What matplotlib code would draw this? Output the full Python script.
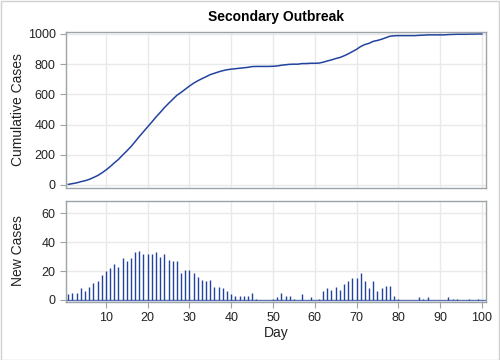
import matplotlib
matplotlib.use("Agg")
import matplotlib.pyplot as plt
import numpy as np

plt.rcParams['font.family'] = ['Liberation Sans', 'DejaVu Sans']

days = list(range(1, 101))
new_cases_early = [4, 5, 5, 8, 6, 9, 12, 13, 17, 20, 22, 25, 23, 29, 27, 29, 33, 34, 32, 32,
                   32, 33, 30, 32, 28, 27, 27, 19, 21, 21, 19, 16, 14, 13, 14, 9, 9, 8, 6, 4,
                   3, 3, 3, 3, 5, 1, 0, 0, 0, 1]
new_cases_late = [2, 5, 3, 3, 1, 0, 4, 0, 2, 0, 1, 6, 8, 7, 9, 7, 11, 13, 15, 15,
                  19, 13, 8, 13, 6, 8, 10, 10, 3, 1, 0, 0, 0, 0, 2, 1, 2, 0, 0, 0,
                  0, 2, 1, 1, 0, 0, 1, 0, 1, 0]
new_cases = new_cases_early + new_cases_late
cumulative = np.cumsum(new_cases)

title = "Secondary Outbreak"
xticks = [10, 20, 30, 40, 50, 60, 70, 80, 90, 100]
yticks_top = [0, 200, 400, 600, 800, 1000]
yticks_bot = [0, 20, 40, 60]

blue = '#22449e'
spine_c = '#9ea3a8'
grid_c = '#e9e9e9'
text_c = '#222222'

fig = plt.figure(figsize=(5, 3.6), dpi=100)
W, H = 500, 360
def ax_rect(l, t, r, b):
    return [l / W, 1 - b / H, (r - l) / W, (b - t) / H]

ax1 = fig.add_axes(ax_rect(66, 32, 486, 188))
ax2 = fig.add_axes(ax_rect(66, 200.5, 486, 302))

for ax in (ax1, ax2):
    ax.set_xlim(0.45, 101)
    ax.set_xticks(xticks)
    ax.grid(True, color=grid_c, linewidth=1.0)
    ax.set_axisbelow(True)
    for s in ax.spines.values():
        s.set_color(spine_c)
        s.set_linewidth(1.0)
    ax.tick_params(colors=spine_c, labelcolor=text_c, labelsize=9, length=4, width=0.8)

ax1.plot(days, cumulative, color=blue, linewidth=1.1)
ax1.set_ylim(-20, 1013)
ax1.set_yticks(yticks_top)
ax1.tick_params(axis='x', bottom=False, labelbottom=False)

ax2.vlines(days, 0, new_cases, color=blue, linewidth=1.0)
ax2.axhline(0, color=blue, linewidth=1.0, alpha=0.7)
ax2.set_ylim(-1.4, 69)
ax2.set_yticks(yticks_bot)

fig.text(18 / W, 1 - 110 / H, "Cumulative Cases", rotation=90, ha='center', va='center',
         fontsize=10, color=text_c)
fig.text(18 / W, 1 - 251 / H, "New Cases", rotation=90, ha='center', va='center',
         fontsize=10, color=text_c)
fig.text(276 / W, 1 - 333 / H, "Day", ha='center', va='center', fontsize=10, color=text_c)
fig.text(276 / W, 1 - 17 / H, title, ha='center', va='center', fontsize=10,
         fontweight='bold', color='#000000')

border = plt.Rectangle((0.5 / W, 0.5 / H), 1 - 1.5 / W, 1 - 1.5 / H, transform=fig.transFigure,
                       fill=False, edgecolor='#d0d0d0', linewidth=1.0)
fig.patches.append(border)

fig.savefig("out.png", dpi=100)
